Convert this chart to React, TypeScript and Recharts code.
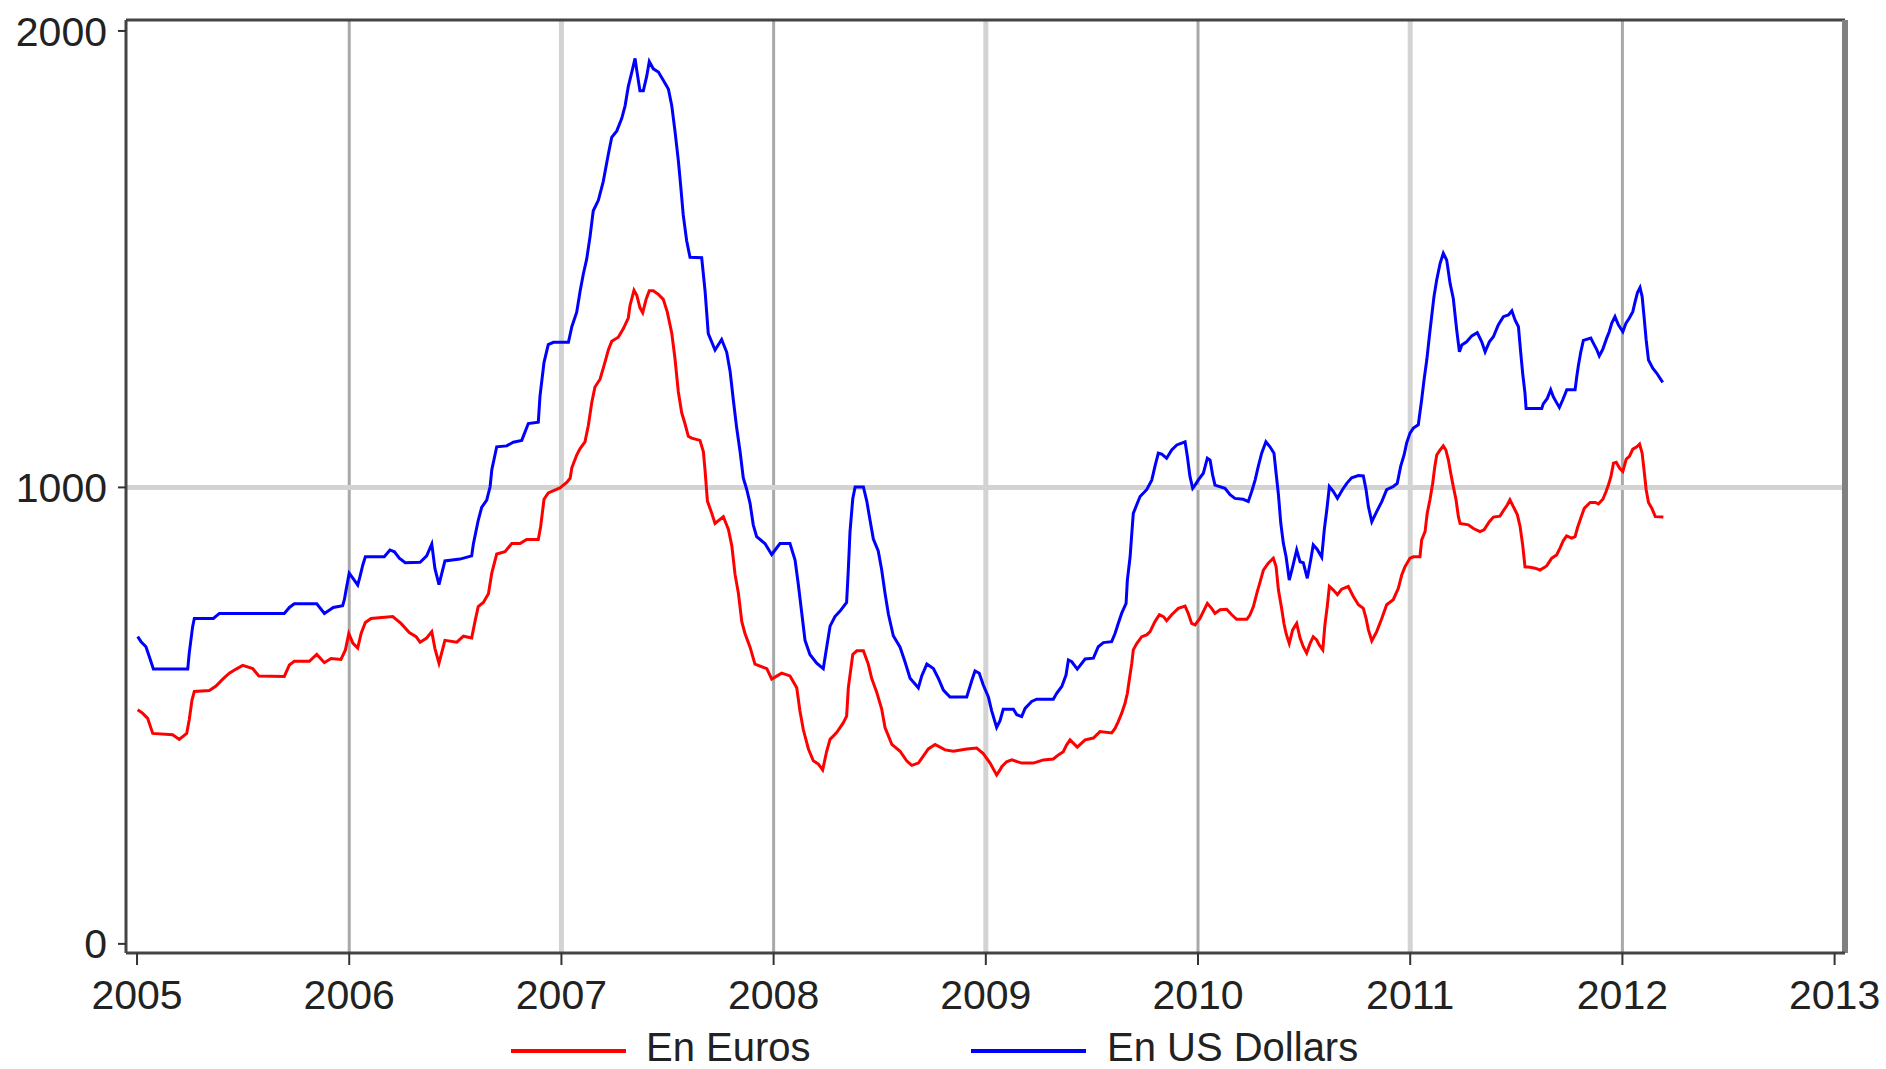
import * as React from "react";
import { LineChart, Line, XAxis, YAxis, ReferenceLine, Legend } from "recharts";

// weekly-ish readings, decimal years
const usdYears = [
  2005.003, 2005.019, 2005.042, 2005.058, 2005.077, 2005.239, 2005.246, 2005.262, 2005.27, 2005.36,
  2005.388, 2005.694, 2005.718, 2005.741, 2005.847, 2005.883, 2005.925, 2005.969, 2005.977, 2005.985,
  2006.0, 2006.017, 2006.04, 2006.051, 2006.064, 2006.076, 2006.165, 2006.192, 2006.213, 2006.236,
  2006.264, 2006.334, 2006.365, 2006.389, 2006.404, 2006.423, 2006.451, 2006.522, 2006.577, 2006.585,
  2006.608, 2006.624, 2006.648, 2006.664, 2006.672, 2006.695, 2006.742, 2006.773, 2006.813, 2006.844,
  2006.891, 2006.899, 2006.918, 2006.938, 2006.962, 2007.033, 2007.049, 2007.072, 2007.088, 2007.103,
  2007.119, 2007.135, 2007.15, 2007.174, 2007.197, 2007.221, 2007.237, 2007.261, 2007.284, 2007.3,
  2007.315, 2007.334, 2007.347, 2007.355, 2007.37, 2007.386, 2007.402, 2007.414, 2007.433, 2007.457,
  2007.48, 2007.504, 2007.52, 2007.535, 2007.551, 2007.562, 2007.574, 2007.59, 2007.606, 2007.661,
  2007.677, 2007.692, 2007.724, 2007.755, 2007.779, 2007.795, 2007.81, 2007.826, 2007.842, 2007.857,
  2007.873, 2007.889, 2007.904, 2007.92, 2007.959, 2007.991, 2008.03, 2008.077, 2008.101, 2008.116,
  2008.132, 2008.148, 2008.171, 2008.203, 2008.234, 2008.25, 2008.266, 2008.289, 2008.313, 2008.344,
  2008.352, 2008.36, 2008.373, 2008.384, 2008.423, 2008.439, 2008.454, 2008.47, 2008.493, 2008.509,
  2008.525, 2008.541, 2008.564, 2008.596, 2008.619, 2008.643, 2008.682, 2008.698, 2008.722, 2008.753,
  2008.776, 2008.8, 2008.831, 2008.91, 2008.934, 2008.949, 2008.969, 2008.988, 2009.012, 2009.028,
  2009.051, 2009.067, 2009.082, 2009.13, 2009.146, 2009.169, 2009.185, 2009.216, 2009.24, 2009.318,
  2009.334, 2009.358, 2009.378, 2009.389, 2009.405, 2009.431, 2009.468, 2009.507, 2009.53, 2009.554,
  2009.593, 2009.609, 2009.624, 2009.64, 2009.661, 2009.667, 2009.68, 2009.688, 2009.695, 2009.711,
  2009.727, 2009.758, 2009.782, 2009.797, 2009.813, 2009.829, 2009.852, 2009.876, 2009.9, 2009.923,
  2009.939, 2009.95, 2009.962, 2009.975, 2009.986, 2010.001, 2010.025, 2010.044, 2010.057, 2010.069,
  2010.08, 2010.127, 2010.151, 2010.174, 2010.213, 2010.237, 2010.253, 2010.269, 2010.284, 2010.3,
  2010.32, 2010.339, 2010.358, 2010.368, 2010.379, 2010.39, 2010.402, 2010.415, 2010.43, 2010.446,
  2010.465, 2010.481, 2010.496, 2010.515, 2010.531, 2010.543, 2010.562, 2010.583, 2010.595, 2010.607,
  2010.619, 2010.638, 2010.657, 2010.682, 2010.701, 2010.724, 2010.756, 2010.779, 2010.792, 2010.803,
  2010.819, 2010.842, 2010.866, 2010.889, 2010.92, 2010.939, 2010.955, 2010.971, 2010.983, 2010.999,
  2011.015, 2011.038, 2011.054, 2011.065, 2011.078, 2011.09, 2011.101, 2011.112, 2011.125, 2011.141,
  2011.156, 2011.172, 2011.188, 2011.203, 2011.219, 2011.232, 2011.243, 2011.266, 2011.29, 2011.316,
  2011.337, 2011.353, 2011.373, 2011.392, 2011.415, 2011.439, 2011.463, 2011.479, 2011.494, 2011.51,
  2011.521, 2011.53, 2011.541, 2011.546, 2011.62, 2011.627, 2011.646, 2011.662, 2011.674, 2011.687,
  2011.703, 2011.719, 2011.738, 2011.777, 2011.785, 2011.793, 2011.804, 2011.816, 2011.851, 2011.863,
  2011.879, 2011.891, 2011.907, 2011.926, 2011.938, 2011.95, 2011.965, 2011.981, 2012.002, 2012.017,
  2012.033, 2012.049, 2012.06, 2012.071, 2012.083, 2012.093, 2012.102, 2012.112, 2012.123, 2012.143,
  2012.162, 2012.19,
];
const usdPrices = [
  673, 662, 651, 629, 602, 602, 637, 695, 713, 713,
  724, 724, 737, 745, 745, 724, 737, 741, 754, 775,
  812, 801, 786, 805, 830, 848, 848, 863, 859, 845,
  835, 836, 850, 876, 822, 787, 839, 843, 850, 876,
  928, 956, 972, 1002, 1039, 1089, 1091, 1099, 1103, 1140,
  1143, 1200, 1274, 1313, 1318, 1318, 1352, 1384, 1430, 1467,
  1500, 1550, 1606, 1629, 1670, 1730, 1767, 1781, 1808, 1836,
  1878, 1914, 1940, 1914, 1869, 1869, 1901, 1933, 1917, 1910,
  1892, 1873, 1836, 1781, 1716, 1661, 1597, 1541, 1504, 1503,
  1430, 1337, 1301, 1324, 1296, 1254, 1192, 1130, 1078, 1021,
  996, 965, 918, 892, 877, 853, 877, 877, 841, 789,
  727, 665, 634, 615, 603, 650, 696, 717, 729, 748,
  820, 903, 975, 1001, 1001, 970, 929, 887, 861, 820,
  768, 722, 675, 650, 618, 582, 561, 587, 613, 603,
  582, 556, 541, 541, 577, 598, 593, 567, 541, 510,
  474, 489, 514, 514, 502, 498, 516, 531, 536, 536,
  549, 564, 589, 622, 618, 602, 624, 626, 651, 660,
  662, 680, 702, 724, 746, 797, 848, 900, 943, 962,
  980, 995, 1016, 1046, 1075, 1073, 1064, 1082, 1093, 1097,
  1100, 1067, 1024, 998, 1005, 1016, 1031, 1064, 1060, 1027,
  1005, 998, 984, 976, 974, 969, 991, 1016, 1046, 1075,
  1100, 1089, 1075, 1031, 984, 922, 878, 848, 797, 826,
  863, 837, 835, 801, 841, 874, 864, 847, 907, 951,
  1002, 991, 976, 996, 1009, 1021, 1026, 1025, 995, 958,
  925, 947, 969, 995, 1002, 1009, 1046, 1071, 1097, 1119,
  1130, 1137, 1192, 1235, 1279, 1330, 1374, 1418, 1455, 1491,
  1513, 1498, 1447, 1414, 1345, 1297, 1312, 1319, 1332, 1339,
  1319, 1297, 1319, 1330, 1356, 1374, 1378, 1387, 1367, 1352,
  1294, 1250, 1206, 1173, 1173, 1183, 1195, 1214, 1199, 1188,
  1175, 1192, 1214, 1214, 1243, 1268, 1297, 1322, 1327, 1316,
  1302, 1288, 1302, 1327, 1341, 1360, 1374, 1356, 1341, 1360,
  1371, 1385, 1407, 1427, 1438, 1418, 1374, 1323, 1279, 1261,
  1250, 1230,
];

const eurYears = [
  2005.003, 2005.027, 2005.05, 2005.074, 2005.168, 2005.199, 2005.234, 2005.246, 2005.259, 2005.27,
  2005.341, 2005.372, 2005.404, 2005.435, 2005.467, 2005.498, 2005.545, 2005.574, 2005.694, 2005.718,
  2005.741, 2005.812, 2005.847, 2005.883, 2005.914, 2005.961, 2005.982, 2005.998, 2006.017, 2006.04,
  2006.056, 2006.076, 2006.103, 2006.205, 2006.244, 2006.283, 2006.315, 2006.334, 2006.365, 2006.389,
  2006.404, 2006.423, 2006.451, 2006.507, 2006.538, 2006.577, 2006.593, 2006.608, 2006.632, 2006.656,
  2006.672, 2006.695, 2006.734, 2006.766, 2006.805, 2006.836, 2006.891, 2006.902, 2006.918, 2006.938,
  2006.993, 2007.025, 2007.041, 2007.049, 2007.072, 2007.088, 2007.111, 2007.127, 2007.143, 2007.158,
  2007.182, 2007.205, 2007.221, 2007.237, 2007.268, 2007.292, 2007.315, 2007.323, 2007.342, 2007.355,
  2007.37, 2007.383, 2007.399, 2007.414, 2007.433, 2007.457, 2007.48, 2007.499, 2007.52, 2007.535,
  2007.551, 2007.567, 2007.582, 2007.598, 2007.614, 2007.653, 2007.669, 2007.677, 2007.688, 2007.708,
  2007.724, 2007.763, 2007.787, 2007.803, 2007.818, 2007.834, 2007.85, 2007.865, 2007.889, 2007.912,
  2007.968, 2007.991, 2008.038, 2008.077, 2008.109, 2008.124, 2008.14, 2008.164, 2008.187, 2008.211,
  2008.231, 2008.25, 2008.266, 2008.297, 2008.328, 2008.344, 2008.352, 2008.373, 2008.392, 2008.423,
  2008.446, 2008.462, 2008.486, 2008.509, 2008.525, 2008.557, 2008.596, 2008.627, 2008.651, 2008.682,
  2008.706, 2008.729, 2008.761, 2008.808, 2008.847, 2008.91, 2008.957, 2008.988, 2009.02, 2009.051,
  2009.067, 2009.075, 2009.098, 2009.122, 2009.169, 2009.224, 2009.271, 2009.318, 2009.342, 2009.365,
  2009.381, 2009.397, 2009.431, 2009.468, 2009.507, 2009.538, 2009.593, 2009.609, 2009.624, 2009.64,
  2009.656, 2009.667, 2009.676, 2009.688, 2009.695, 2009.711, 2009.735, 2009.758, 2009.774, 2009.797,
  2009.818, 2009.837, 2009.852, 2009.876, 2009.907, 2009.939, 2009.954, 2009.97, 2009.986, 2010.009,
  2010.044, 2010.064, 2010.08, 2010.104, 2010.135, 2010.159, 2010.182, 2010.23, 2010.245, 2010.261,
  2010.277, 2010.295, 2010.308, 2010.331, 2010.355, 2010.368, 2010.379, 2010.394, 2010.405, 2010.415,
  2010.43, 2010.446, 2010.465, 2010.481, 2010.496, 2010.512, 2010.528, 2010.543, 2010.559, 2010.571,
  2010.588, 2010.598, 2010.609, 2010.619, 2010.638, 2010.657, 2010.677, 2010.708, 2010.732, 2010.756,
  2010.779, 2010.792, 2010.803, 2010.819, 2010.842, 2010.866, 2010.889, 2010.92, 2010.944, 2010.96,
  2010.975, 2010.999, 2011.015, 2011.046, 2011.054, 2011.07, 2011.08, 2011.093, 2011.106, 2011.116,
  2011.125, 2011.141, 2011.156, 2011.168, 2011.18, 2011.191, 2011.203, 2011.216, 2011.227, 2011.235,
  2011.274, 2011.298, 2011.329, 2011.348, 2011.373, 2011.392, 2011.423, 2011.442, 2011.458, 2011.47,
  2011.486, 2011.505, 2011.518, 2011.53, 2011.541, 2011.565, 2011.588, 2011.612, 2011.643, 2011.667,
  2011.69, 2011.706, 2011.721, 2011.737, 2011.761, 2011.777, 2011.788, 2011.804, 2011.82, 2011.848,
  2011.872, 2011.887, 2011.908, 2011.923, 2011.934, 2011.946, 2011.958, 2011.971, 2011.987, 2012.002,
  2012.018, 2012.033, 2012.049, 2012.068, 2012.081, 2012.093, 2012.102, 2012.112, 2012.123, 2012.139,
  2012.155, 2012.193,
];
const eurPrices = [
  513, 505, 494, 461, 458, 448, 461, 491, 534, 553,
  555, 565, 580, 593, 602, 610, 603, 587, 586, 611,
  619, 619, 634, 616, 625, 623, 644, 680, 659, 648,
  680, 704, 713, 717, 702, 682, 673, 661, 670, 684,
  647, 615, 665, 661, 674, 670, 707, 739, 748, 767,
  813, 854, 859, 877, 877, 886, 886, 914, 974, 988,
  999, 1011, 1020, 1043, 1071, 1085, 1100, 1136, 1186, 1220,
  1237, 1274, 1301, 1320, 1329, 1348, 1371, 1398, 1432, 1421,
  1394, 1383, 1412, 1431, 1431, 1423, 1412, 1384, 1338, 1283,
  1209, 1163, 1140, 1112, 1108, 1103, 1078, 1037, 970, 944,
  921, 936, 908, 872, 810, 768, 706, 680, 650, 613,
  603, 580, 593, 587, 561, 510, 469, 427, 401, 394,
  381, 422, 448, 463, 484, 499, 561, 634, 642, 642,
  613, 582, 551, 515, 474, 437, 422, 401, 391, 396,
  412, 427, 437, 425, 422, 427, 429, 417, 396, 370,
  381, 388, 399, 403, 396, 396, 403, 405, 414, 421,
  436, 447, 431, 447, 451, 465, 462, 472, 487, 505,
  527, 549, 578, 615, 644, 658, 673, 677, 684, 706,
  721, 717, 708, 721, 735, 740, 724, 702, 699, 713,
  746, 735, 724, 732, 733, 721, 711, 711, 721, 739,
  768, 797, 819, 834, 845, 826, 775, 735, 702, 680,
  658, 688, 702, 670, 651, 637, 658, 673, 666, 655,
  644, 699, 739, 783, 775, 765, 777, 783, 761, 743,
  735, 713, 688, 664, 684, 713, 743, 754, 779, 808,
  826, 845, 848, 848, 885, 903, 943, 973, 1009, 1046,
  1071, 1082, 1091, 1082, 1060, 1031, 1002, 973, 936, 921,
  918, 910, 903, 907, 925, 935, 937, 951, 962, 973,
  958, 940, 914, 874, 826, 825, 823, 819, 828, 845,
  852, 867, 883, 894, 889, 892, 911, 933, 954, 967,
  967, 964, 974, 991, 1005, 1024, 1053, 1055, 1042, 1035,
  1062, 1068, 1084, 1089, 1095, 1075, 1038, 995, 967, 954,
  936, 935,
];

const yearTicks = [2005, 2006, 2007, 2008, 2009, 2010, 2011, 2012, 2013];
const valueTicks = [0, 1000, 2000];
const seriesNames = ["En Euros", "En US Dollars"];
const seriesColors = ["#ff0000", "#0000ff"];

const W = 1886;
const H = 1069;
const FONT = '"Liberation Sans", Arial, sans-serif';

const eurData = eurYears.map((x, i) => ({ x, v: eurPrices[i] }));
const usdData = usdYears.map((x, i) => ({ x, v: usdPrices[i] }));

// legend items laid out by hand to match the original spacing
const legendSlots = [
  { line: 511, text: 646 },
  { line: 971, text: 1107 },
];

function ChartLegend() {
  return (
    <div style={{ position: "relative", width: W, height: 38, fontFamily: FONT, fontSize: 40, color: "#222" }}>
      {seriesNames.map((name, i) => (
        <React.Fragment key={name}>
          <div
            style={{
              position: "absolute",
              left: legendSlots[i].line,
              top: 19,
              width: 115,
              height: 4,
              background: seriesColors[i],
            }}
          />
          <span style={{ position: "absolute", left: legendSlots[i].text, top: -3, lineHeight: "40px", whiteSpace: "nowrap" }}>
            {name}
          </span>
        </React.Fragment>
      ))}
    </div>
  );
}

export default function App() {
  const tickStyle = { fontFamily: FONT, fontSize: 41, fill: "#222" };
  return (
    <div style={{ position: "absolute", left: 0, top: 0, width: W, height: H, background: "#fff" }}>
      <LineChart width={W} height={H} margin={{ top: 20, right: 41, left: 0, bottom: 2 }}>
        {yearTicks.slice(1, -1).map((yr) => (
          <ReferenceLine
            key={yr}
            x={yr}
            stroke={yr % 2 === 0 ? "#a9a9a9" : "#d3d3d3"}
            strokeWidth={yr % 2 === 0 ? 3 : 5}
          />
        ))}
        <ReferenceLine y={1000} stroke="#d3d3d3" strokeWidth={5} />
        <XAxis
          dataKey="x"
          type="number"
          domain={[2004.948, 2013.049]}
          ticks={yearTicks}
          allowDataOverflow
          height={76}
          tickSize={12}
          tickMargin={15}
          tick={tickStyle}
          axisLine={{ stroke: "#444", strokeWidth: 3 }}
          tickLine={{ stroke: "#333", strokeWidth: 2 }}
        />
        <YAxis
          type="number"
          domain={[-20, 2024]}
          ticks={valueTicks}
          allowDataOverflow
          width={126}
          tickSize={8}
          tickMargin={11}
          tick={tickStyle}
          axisLine={{ stroke: "#444", strokeWidth: 3 }}
          tickLine={{ stroke: "#333", strokeWidth: 2 }}
        />
        <ReferenceLine y={2024} stroke="#444" strokeWidth={3} />
        <ReferenceLine x={2013.049} stroke="#808080" strokeWidth={6} />
        <Line
          data={eurData}
          dataKey="v"
          name={seriesNames[0]}
          type="linear"
          stroke={seriesColors[0]}
          strokeWidth={3}
          dot={false}
          isAnimationActive={false}
        />
        <Line
          data={usdData}
          dataKey="v"
          name={seriesNames[1]}
          type="linear"
          stroke={seriesColors[1]}
          strokeWidth={3}
          dot={false}
          isAnimationActive={false}
        />
        <Legend verticalAlign="bottom" content={() => <ChartLegend />} wrapperStyle={{ left: 0, top: 1030, width: W }} />
      </LineChart>
    </div>
  );
}
